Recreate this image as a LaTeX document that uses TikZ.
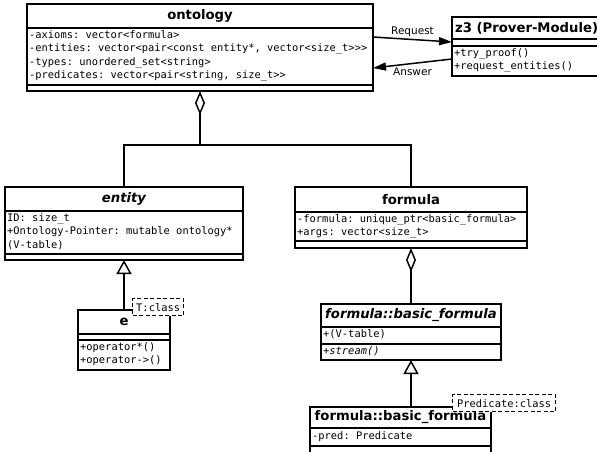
\documentclass[tikz,border=0pt]{standalone}
\usepackage{fontspec}
\setmainfont{DejaVu Sans}[BoldFont={DejaVu Sans Bold}, ItalicFont={DejaVu Sans Oblique}, BoldItalicFont={DejaVu Sans Bold Oblique}]
\newfontfamily\monof{DejaVu Sans Mono}[BoldFont={DejaVu Sans Mono Bold}, ItalicFont={DejaVu Sans Mono Oblique}]
\usetikzlibrary{arrows.meta}
\frenchspacing
\begin{document}
\begin{tikzpicture}[x=1pt,y=-1pt]
\tikzset{
 cls/.style={draw, line width=1.6pt, inner sep=0pt, outer sep=0pt, anchor=north west},
 ttl/.style={font=\fontsize{13.2}{15}\selectfont\bfseries, inner sep=0pt},
 ittl/.style={font=\fontsize{13.2}{15}\selectfont\bfseries\itshape, inner sep=0pt},
 mem/.style={font=\monof\fontsize{10.4}{13.5}\selectfont, align=left, inner sep=0pt, anchor=north west},
 seprule/.style={line width=1.6pt},
 tmpl/.style={draw, dash pattern=on 4pt off 2.5pt, line width=1.3pt, fill=white, font=\monof\fontsize{10.4}{12}\selectfont, inner sep=0pt, anchor=north west},
 conn/.style={line width=1.5pt},
 agg/.style={conn, {Diamond[open, length=24pt, width=10pt]}-},
 gen/.style={conn, -{Triangle[open, length=14pt, width=15pt]}},
 msg/.style={conn, -{Triangle[length=13pt, width=8pt]}},
 lbl/.style={font=\fontsize{10.5}{12}\selectfont, inner sep=0pt}
}
\useasboundingbox (0,0) rectangle (597,451);
\fill[white] (0,0) rectangle (597,451);

% ontology
\node[cls, minimum width=346pt, minimum height=87pt] (ont) at (27,4) {};
\draw[seprule] (27,28) -- (373,28);
\draw[seprule] (27,85) -- (373,85);
\node[ttl] (ontT) at (200,16) {ontology};
\node[mem] (ontA) at (29,30) {-axioms: vector<formula>\\-entities: vector<pair<const entity*, vector<size\_t>{}>{}>\\-types: unordered\_set<string>\\-predicates: vector<pair<string, size\_t>{}>};

% z3
\node[cls, minimum width=147pt, minimum height=59pt] (z3) at (452,17) {};
\draw[seprule] (452,39) -- (599,39);
\draw[seprule] (452,46) -- (599,46);
\node[ttl, anchor=west] (z3T) at (455,28) {z3 (Prover-Module)};
\node[mem] (z3M) at (454,48) {+try\_proof()\\+request\_entities()};

% entity
\node[cls, minimum width=238pt, minimum height=73pt] (ent) at (5,187) {};
\draw[seprule] (5,211) -- (243,211);
\draw[seprule] (5,254) -- (243,254);
\node[ittl] (entT) at (124,199) {entity};
\node[mem] (entA) at (7,213) {ID: size\_t\\+Ontology-Pointer: mutable ontology*\\(V-table)};

% e
\node[cls, minimum width=92pt, minimum height=60pt] (eb) at (78,310) {};
\draw[seprule] (78,334) -- (170,334);
\draw[seprule] (78,340) -- (170,340);
\node[ttl] (ebT) at (124,322) {e};
\node[mem] (ebM) at (80,342) {+operator*()\\+operator->()};
\node[tmpl, minimum width=51pt, minimum height=17pt] (tT) at (132,298) {T:class};

% formula
\node[cls, minimum width=232pt, minimum height=61pt] (frm) at (295,187) {};
\draw[seprule] (295,212) -- (527,212);
\draw[seprule] (295,241) -- (527,241);
\node[ttl] (frmT) at (411,199.5) {formula};
\node[mem] (frmA) at (297,214) {-formula: unique\_ptr<basic\_formula>\\+args: vector<size\_t>};

% basic_formula
\node[cls, minimum width=180pt, minimum height=56pt] (bf) at (321,304) {};
\draw[seprule] (321,327) -- (501,327);
\draw[seprule] (321,344) -- (501,344);
\node[ittl] (bfT) at (411,315.5) {formula::basic\_formula};
\node[mem] (bfA) at (323,329) {+(V-table)};
\node[mem] (bfM) at (323,346) {\itshape +stream()};

% predicate based formula
\node[cls, minimum width=181pt, minimum height=50pt] (pb) at (310,407) {};
\draw[seprule] (310,428) -- (491,428);
\draw[seprule] (310,446) -- (491,446);
\node[ttl] (pbT) at (400.5,417.5) {formula::basic\_formula};
\node[mem] (pbA) at (312,431) {-pred: Predicate};
\node[tmpl, minimum width=103pt, minimum height=17pt] (pT) at (452,394) {Predicate:class};

% connectors
\coordinate (j) at (200,145);
\draw[agg] (ont.south) -- (j) -| (ent.north);
\draw[conn] (j) -| (frm.north);
\draw[gen] (eb.north) -- (ent.south);
\draw[agg] (frm.south) -- (bf.north);
\draw[gen] (bf.south |- pb.north) -- (bf.south);
\draw[msg] (ont.east |- 0,37) -- (z3.west |- 0,42) node[lbl, midway, above=2pt] (req) {Request};
\draw[msg] (z3.west |- 0,59) -- (ont.east |- 0,68) node[lbl, midway, below=4pt] (ans) {Answer};
\end{tikzpicture}
\end{document}
